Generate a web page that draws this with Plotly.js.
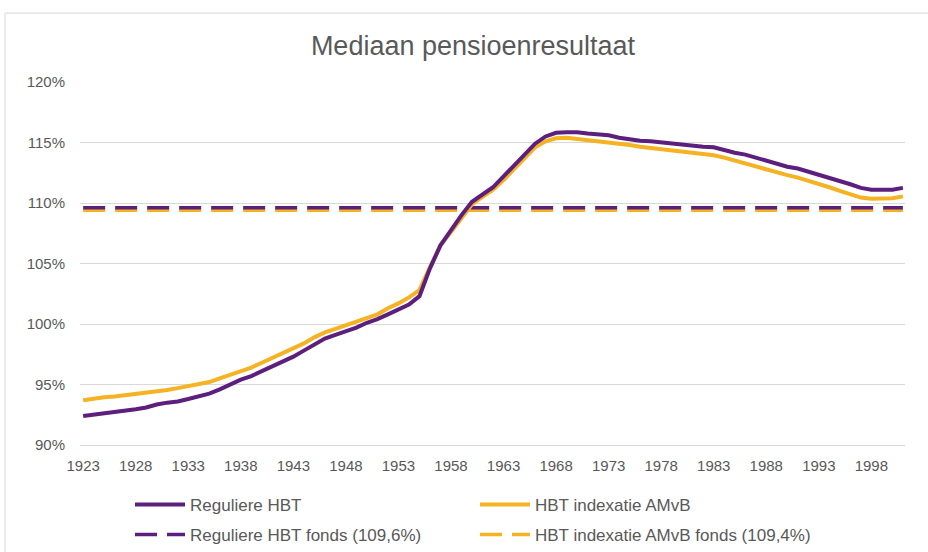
<!DOCTYPE html>
<html>
<head>
<meta charset="utf-8">
<script src="https://cdn.plot.ly/plotly-3.0.1.min.js"></script>
<style>html,body{margin:0;padding:0;background:#fff;}#chart{width:928px;height:552px;}</style>
</head>
<body>
<div id="chart"></div>
<script>
const years = [1923,1924,1925,1926,1927,1928,1929,1930,1931,1932,1933,1934,1935,1936,1937,1938,1939,1940,1941,1942,1943,1944,1945,1946,1947,1948,1949,1950,1951,1952,1953,1954,1955,1956,1957,1958,1959,1960,1961,1962,1963,1964,1965,1966,1967,1968,1969,1970,1971,1972,1973,1974,1975,1976,1977,1978,1979,1980,1981,1982,1983,1984,1985,1986,1987,1988,1989,1990,1991,1992,1993,1994,1995,1996,1997,1998,1999,2000,2001];

const reguliereHBT = [92.4,92.5,92.6,92.7,92.8,92.95,93.1,93.35,93.5,93.6,93.8,94.0,94.25,94.6,95.0,95.4,95.7,96.1,96.5,96.9,97.3,97.8,98.3,98.8,99.1,99.4,99.7,100.1,100.4,100.8,101.2,101.6,102.3,104.6,106.5,107.8,109.0,110.1,110.7,111.3,112.2,113.1,114.0,114.9,115.5,115.8,115.85,115.85,115.75,115.7,115.6,115.4,115.25,115.15,115.1,115.0,114.9,114.85,114.75,114.65,114.6,114.35,114.15,114.0,113.75,113.5,113.2,113.0,112.85,112.6,112.35,112.1,111.85,111.55,111.25,111.1,111.1,111.1,111.25];

const hbtIndexatieAMvB = [93.7,93.85,93.95,94.0,94.1,94.2,94.35,94.45,94.55,94.7,94.85,95.0,95.2,95.5,95.8,96.1,96.4,96.8,97.2,97.6,97.95,98.4,98.9,99.3,99.6,99.9,100.2,100.5,100.8,101.3,101.7,102.2,102.8,104.7,106.5,107.6,108.8,109.9,110.5,111.1,111.9,112.8,113.7,114.6,115.1,115.35,115.4,115.3,115.2,115.15,115.05,114.9,114.8,114.65,114.55,114.4,114.3,114.25,114.15,114.05,113.95,113.75,113.5,113.3,113.05,112.8,112.5,112.3,112.1,111.85,111.6,111.3,111.0,110.75,110.45,110.35,110.35,110.4,110.55];

const fondsReguliere = 109.6;
const fondsAMvB = 109.4;

const seriesNames = ['Reguliere HBT','HBT indexatie AMvB','Reguliere HBT fonds (109,6%)','HBT indexatie AMvB fonds (109,4%)'];
const yTicks = [90,95,100,105,110,115,120];

const purple = '#5c1f7d';
const yellow = '#f5b222';

const solidReg = {x: years, y: reguliereHBT, name: seriesNames[0], mode: 'lines', line: {color: purple, width: 4}, legend: 'legend', legendrank: 1};
const solidAMvB = {x: years, y: hbtIndexatieAMvB, name: seriesNames[1], mode: 'lines', line: {color: yellow, width: 4}, legend: 'legend', legendrank: 2};
const dashReg = {x: years, y: years.map(() => fondsReguliere), name: seriesNames[2], mode: 'lines', line: {color: purple, width: 3.5, dash: '22px,10px'}, legend: 'legend2', legendrank: 1};
const dashAMvB = {x: years, y: years.map(() => fondsAMvB), name: seriesNames[3], mode: 'lines', line: {color: yellow, width: 3.5, dash: '22px,10px'}, legend: 'legend2', legendrank: 2};

const drawTraces = [dashAMvB, dashReg, solidAMvB, solidReg];

const legendBase = {orientation: 'h', xref: 'container', yref: 'container', x: 130/928, xanchor: 'left', yanchor: 'middle', entrywidth: 280, entrywidthmode: 'pixels', itemwidth: 50, font: {size: 17, color: '#595959'}, bgcolor: 'rgba(0,0,0,0)'};

const layout = {
  width: 928, height: 552,
  margin: {l: 80, r: 23, t: 82, b: 107},
  paper_bgcolor: '#ffffff', plot_bgcolor: '#ffffff',
  font: {family: 'Liberation Sans, Arial, sans-serif', size: 15, color: '#595959'},
  title: {text: 'Mediaan pensioenresultaat', xref: 'container', x: 473/928, xanchor: 'center', yref: 'container', y: 1 - 46/552, yanchor: 'middle', font: {size: 27, color: '#595959'}},
  showlegend: true,
  legend: Object.assign({}, legendBase, {y: 1 - 505/552}),
  legend2: Object.assign({}, legendBase, {y: 1 - 535/552}),
  xaxis: {range: [1922.7, 2001.2], tickmode: 'linear', tick0: 1923, dtick: 5, showgrid: false, zeroline: false, showline: true, linecolor: '#d9d9d9', linewidth: 1, ticks: '', ticklabelstandoff: 7, tickfont: {size: 15}, fixedrange: true, automargin: false},
  yaxis: {range: [90, 120], tickvals: yTicks, ticktext: yTicks.map(v => v + '%'), showgrid: true, gridcolor: '#d9d9d9', gridwidth: 1, zeroline: false, showline: false, ticks: '', ticklabelstandoff: 14, tickfont: {size: 15}, fixedrange: true, automargin: false},
  shapes: [{type: 'rect', xref: 'paper', yref: 'paper', x0: -0.0909, x1: 1.2, y0: -0.4, y1: 1.19, line: {color: '#d9d9d9', width: 1}, fillcolor: 'rgba(0,0,0,0)', layer: 'below'}]
};

Plotly.newPlot('chart', drawTraces, layout, {displayModeBar: false, staticPlot: true});
</script>
</body>
</html>
